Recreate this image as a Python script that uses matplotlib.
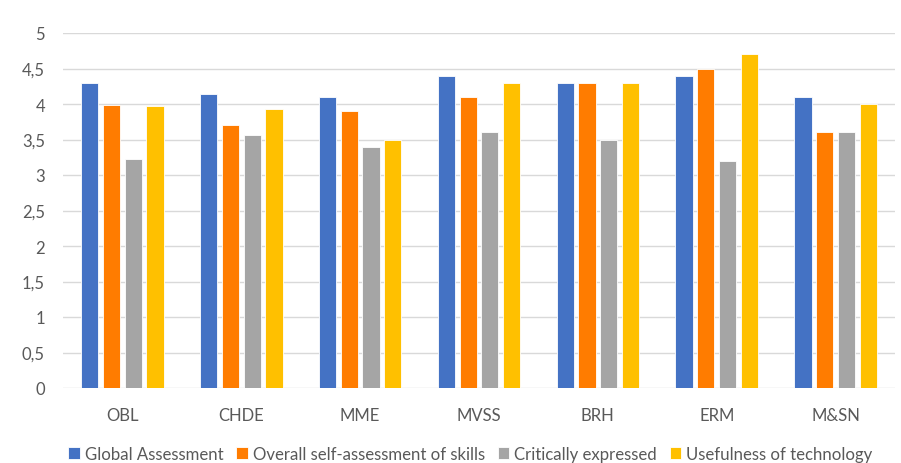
import matplotlib
matplotlib.use("Agg")
import matplotlib.pyplot as plt
import numpy as np
from matplotlib.ticker import FuncFormatter

categories = ["OBL", "CHDE", "MME", "MVSS", "BRH", "ERM", "M&SN"]
global_assessment = [4.29, 4.14, 4.10, 4.40, 4.30, 4.40, 4.10]
self_assessment = [3.99, 3.70, 3.90, 4.10, 4.30, 4.50, 3.60]
critically_expressed = [3.23, 3.56, 3.40, 3.60, 3.50, 3.20, 3.60]
usefulness_tech = [3.97, 3.93, 3.50, 4.30, 4.30, 4.70, 4.00]

series_names = ["Global Assessment", "Overall self-assessment of skills",
                "Critically expressed", "Usefulness of technology"]
series_values = [global_assessment, self_assessment, critically_expressed, usefulness_tech]
colors = ["#4472C4", "#FF7C00", "#A5A5A5", "#FFC000"]

plt.rcParams["font.family"] = ["Lato", "DejaVu Sans"]
text_color = "#595959"

fig = plt.figure(figsize=(9.01, 4.64), dpi=100)
ax = fig.add_axes([63 / 901, 1 - 389 / 464, (895 - 63) / 901, (389 - 34) / 464])

x = np.arange(len(categories))
slot = 0.183
bar_w = 0.145
for i, (name, vals, c) in enumerate(zip(series_names, series_values, colors)):
    offs = (i - 1.5) * slot
    ax.bar(x + offs, vals, width=bar_w, color=c, label=name,
           edgecolor="white", linewidth=0.6, zorder=3)

ax.set_xlim(-0.5, len(categories) - 0.5)
ax.set_ylim(0, 5)
ax.set_yticks(np.arange(0, 5.01, 0.5))
ax.yaxis.set_major_formatter(FuncFormatter(
    lambda v, p: (f"{v:g}").replace(".", ",")))
ax.set_xticks(x)
ax.set_xticklabels(categories)
ax.grid(axis="y", color="#D9D9D9", linewidth=1.0, zorder=0)
for s in ax.spines.values():
    s.set_visible(False)
ax.tick_params(axis="both", length=0, colors=text_color, labelsize=12)
ax.tick_params(axis="x", pad=14)
ax.tick_params(axis="y", pad=13)

leg = fig.legend(loc="center", bbox_to_anchor=(0.522, 1 - 455 / 464), ncol=4,
                 frameon=False, fontsize=12.1, handlelength=0.7, handleheight=0.7,
                 handletextpad=0.3, columnspacing=0.75)
for t in leg.get_texts():
    t.set_color(text_color)

fig.savefig("out.png", dpi=100)
